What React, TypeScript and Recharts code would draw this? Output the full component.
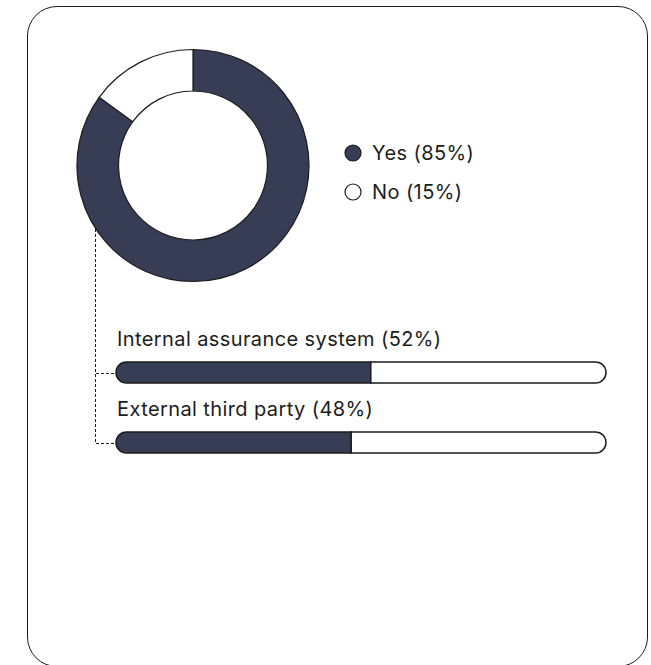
import { PieChart, Pie, Cell, Legend, BarChart, Bar, XAxis, YAxis, LabelList, Rectangle } from 'recharts';

const pieNames = ['Yes', 'No'];
const pieValues = [85, 15];
const pieColors = ['#363d55', '#ffffff'];

const barNames = ['Internal assurance system', 'External third party'];
const barValues = [52, 48];

const NAVY = '#363d55';
const INK = '#1c1c1c';
const FONT = 'Inter, "Noto Sans", sans-serif';
const TEXT_SIZE = 20;
const TRACKING = 0.4;

const pieData = pieNames.map((name, i) => ({ name, value: pieValues[i] }));
const barData = barNames.map((name, i) => ({ name, value: barValues[i], rest: 100 - barValues[i] }));

const renderLegend = (props: any) => {
  const { payload = [] } = props;
  return (
    <div style={{ fontFamily: FONT }}>
      {payload.map((entry: any, i: number) => (
        <div key={i} style={{ display: 'flex', alignItems: 'center', height: 39 }}>
          <svg width={18} height={18}>
            <circle cx={9} cy={9} r={8} fill={pieColors[i]} stroke={INK} strokeWidth={1.2} />
          </svg>
          <span style={{ marginLeft: 10, fontSize: TEXT_SIZE, letterSpacing: TRACKING, color: INK }}>
            {pieNames[i]} ({pieValues[i]}%)
          </span>
        </div>
      ))}
    </div>
  );
};

// filled part of the bar, plus the dashed connector going up to the donut
const ValueShape = (props: any) => {
  const { x, y, width, height } = props;
  const r = height / 2;
  const cy = Math.round(y + height / 2) + 0.5;
  const lx = Math.round(x - 21) + 0.5;
  return (
    <g>
      <path d={`M ${lx} 0 V ${cy} H ${x}`} fill="none" stroke={INK} strokeWidth={1} strokeDasharray="3 2" />
      <Rectangle x={x} y={y} width={width} height={height} radius={[r, 0, 0, r]} fill={NAVY} stroke={INK} strokeWidth={1.5} />
    </g>
  );
};

const RestShape = (props: any) => {
  const { x, y, width, height } = props;
  const r = height / 2;
  return <Rectangle x={x} y={y} width={width} height={height} radius={[0, r, r, 0]} fill="#ffffff" stroke={INK} strokeWidth={1.5} />;
};

const renderBarLabel = (props: any) => {
  const { x, y, index } = props;
  return (
    <text x={x + 1} y={y - 16} fontSize={TEXT_SIZE} letterSpacing={TRACKING} fill={INK} fontFamily={FONT}>
      {barNames[index]} ({barValues[index]}%)
    </text>
  );
};

export default function App() {
  return (
    <div style={{ position: 'absolute', left: 0, top: 0, width: 651, height: 665, overflow: 'hidden', background: '#fff' }}>
      <div
        style={{
          position: 'absolute',
          left: 27,
          top: 6,
          width: 621,
          height: 661,
          border: `1.5px solid ${INK}`,
          borderRadius: 30,
          boxSizing: 'border-box',
        }}
      />
      <div style={{ position: 'absolute', left: 63, top: 35 }}>
        <PieChart width={460} height={262} margin={{ top: 0, right: 0, bottom: 0, left: 0 }}>
          <Pie
            data={pieData}
            dataKey="value"
            nameKey="name"
            cx={130}
            cy={130.5}
            innerRadius={74.5}
            outerRadius={116}
            startAngle={90}
            endAngle={-270}
            stroke={INK}
            strokeWidth={1.2}
            isAnimationActive={false}
          >
            {pieData.map((_, i) => (
              <Cell key={i} fill={pieColors[i]} />
            ))}
          </Pie>
          <Legend
            content={renderLegend}
            layout="vertical"
            wrapperStyle={{ position: 'absolute', left: 281, top: 98, width: 200 }}
          />
        </PieChart>
      </div>
      <div style={{ position: 'absolute', left: 85, top: 229 }}>
        <BarChart
          width={530}
          height={258}
          data={barData}
          layout="vertical"
          margin={{ top: 108, right: 9, bottom: 10, left: 31 }}
        >
          <XAxis type="number" domain={[0, 100]} hide />
          <YAxis type="category" dataKey="name" hide />
          <Bar dataKey="value" stackId="a" barSize={21} shape={ValueShape} isAnimationActive={false}>
            <LabelList dataKey="value" content={renderBarLabel} />
          </Bar>
          <Bar dataKey="rest" stackId="a" barSize={21} shape={RestShape} isAnimationActive={false} />
        </BarChart>
      </div>
    </div>
  );
}
